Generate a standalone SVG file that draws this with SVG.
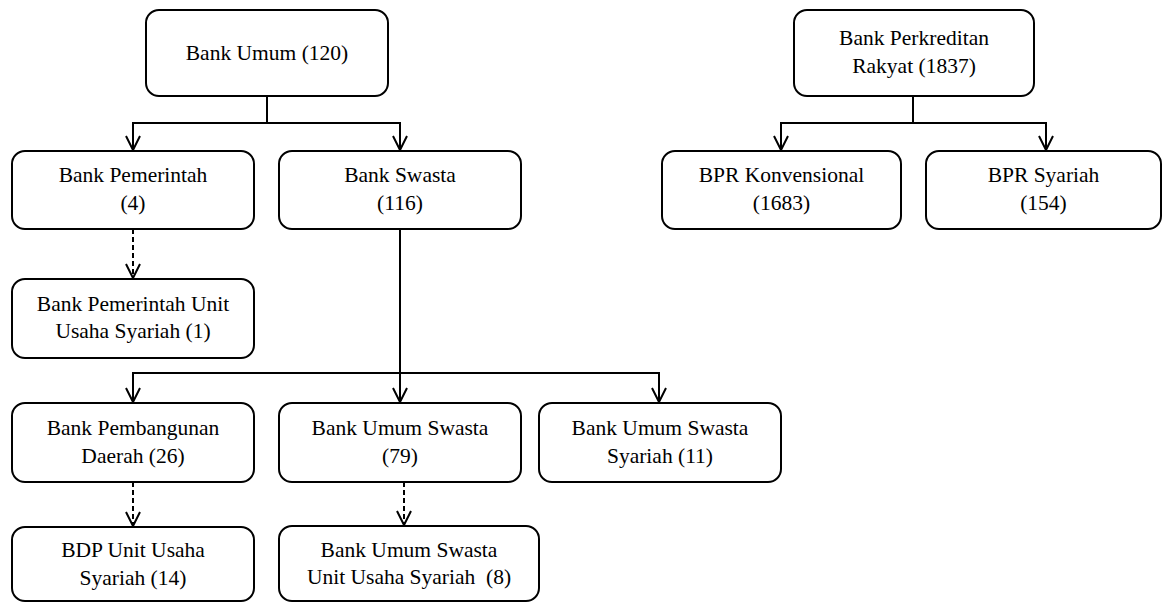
<svg xmlns="http://www.w3.org/2000/svg" width="1168" height="603" viewBox="0 0 1168 603">
<style>
.box{fill:#fff;stroke:#000;stroke-width:2}
.t{font-family:'Liberation Serif','Times New Roman',Tinos,'DejaVu Serif',serif;font-size:21.5px;fill:#000;text-anchor:middle}
.ln{fill:none;stroke:#000;stroke-width:2}
.dash{fill:none;stroke:#000;stroke-width:2;stroke-dasharray:5,3}
.ah{fill:none;stroke:#000;stroke-width:2}
</style>
<rect width="1168" height="603" fill="#fff"/>
<g id="connectors">
<path class="ln" d="M267,96 V123 M133,150 V123 H400 V150"/>
<path class="ln" d="M913,96 V123 M781,150 V123 H1046 V150"/>
<path class="dash" d="M133,229 V278"/>
<path class="ln" d="M400,229 V402 M133,402 V373 H659 V402"/>
<path class="dash" d="M133,482 V526"/>
<path class="dash" d="M404,482 V525"/>
<path class="ah" d="M126,136 L133,150 L140,136 M393,136 L400,150 L407,136"/>
<path class="ah" d="M774,136 L781,150 L788,136 M1039,136 L1046,150 L1053,136"/>
<path class="ah" d="M126,264 L133,278 L140,264"/>
<path class="ah" d="M126,388 L133,402 L140,388 M393,388 L400,402 L407,388 M652,388 L659,402 L666,388"/>
<path class="ah" d="M126,512 L133,526 L140,512"/>
<path class="ah" d="M397,511 L404,525 L411,511"/>
</g>
<g id="bank-umum"><rect class="box" x="146" y="10" width="242" height="86" rx="13"/><text class="t" font-family="Liberation Serif, serif" x="267" y="60">Bank Umum (120)</text></g>
<g id="bpr"><rect class="box" x="794" y="10" width="240" height="86" rx="13"/><text class="t" x="914" y="45">Bank Perkreditan</text><text class="t" x="914" y="73">Rakyat (1837)</text></g>
<g id="bank-pemerintah"><rect class="box" x="12" y="151" width="242" height="78" rx="13"/><text class="t" x="133" y="182">Bank Pemerintah</text><text class="t" x="133" y="210">(4)</text></g>
<g id="bank-swasta"><rect class="box" x="279" y="151" width="242" height="78" rx="13"/><text class="t" x="400" y="182">Bank Swasta</text><text class="t" x="400" y="210">(116)</text></g>
<g id="bpr-konvensional"><rect class="box" x="662" y="151" width="239" height="78" rx="13"/><text class="t" x="781.5" y="182">BPR Konvensional</text><text class="t" x="781.5" y="210">(1683)</text></g>
<g id="bpr-syariah"><rect class="box" x="926" y="151" width="235" height="78" rx="13"/><text class="t" x="1043.5" y="182">BPR Syariah</text><text class="t" x="1043.5" y="210">(154)</text></g>
<g id="bank-pemerintah-uus"><rect class="box" x="12" y="279" width="242" height="79" rx="13"/><text class="t" x="133" y="311">Bank Pemerintah Unit</text><text class="t" x="133" y="338">Usaha Syariah (1)</text></g>
<g id="bpd"><rect class="box" x="12" y="403" width="242" height="79" rx="13"/><text class="t" x="133" y="435">Bank Pembangunan</text><text class="t" x="133" y="463">Daerah (26)</text></g>
<g id="bus"><rect class="box" x="279" y="403" width="242" height="79" rx="13"/><text class="t" x="400" y="435">Bank Umum Swasta</text><text class="t" x="400" y="463">(79)</text></g>
<g id="bus-syariah"><rect class="box" x="539" y="403" width="242" height="79" rx="13"/><text class="t" x="660" y="435">Bank Umum Swasta</text><text class="t" x="660" y="463">Syariah (11)</text></g>
<g id="bdp-uus"><rect class="box" x="12" y="527" width="242" height="74" rx="13"/><text class="t" x="133" y="557">BDP Unit Usaha</text><text class="t" x="133" y="585">Syariah (14)</text></g>
<g id="bus-uus"><rect class="box" x="279" y="526" width="260" height="75" rx="13"/><text class="t" x="409" y="557">Bank Umum Swasta</text><text class="t" x="409" y="584" xml:space="preserve">Unit Usaha Syariah  (8)</text></g>
</svg>
